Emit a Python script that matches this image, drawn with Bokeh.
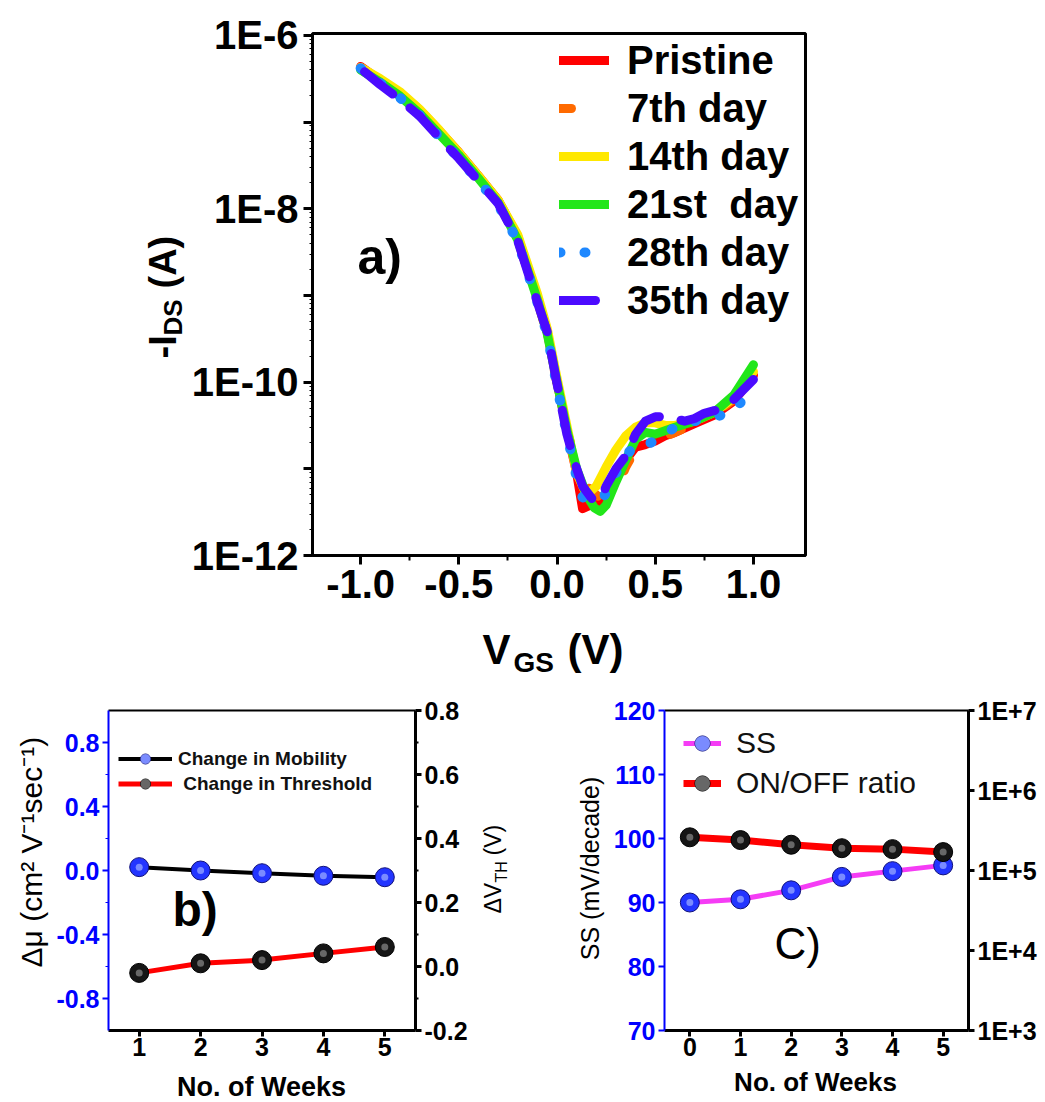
import math
from bokeh.plotting import figure
from bokeh.models import (Range1d, LinearAxis, LogAxis, LogScale, FixedTicker,
                          PrintfTickFormatter, CustomJSTickFormatter, Legend,
                          LegendItem, Label)
from bokeh.layouts import column, row
from bokeh.embed import file_html
from bokeh.resources import INLINE

FONT = "Liberation Sans"

# ---------------- Panel a data: transfer curves (log10 of -I_DS in A) -------------
pristine_V = [-1.0, -0.9, -0.8, -0.7, -0.6, -0.5, -0.4, -0.3, -0.2, -0.1, -0.05, 0.0, 0.05, 0.1, 0.13, 0.17, 0.21, 0.25, 0.3, 0.35, 0.4, 0.45, 0.5, 0.55, 0.6, 0.7, 0.8, 0.9, 1.0]
pristine_logI = [-6.36, -6.52, -6.66, -6.86, -7.10, -7.35, -7.62, -7.90, -8.32, -9.02, -9.42, -10.0, -10.55, -11.05, -11.46, -11.42, -11.38, -11.28, -11.10, -10.90, -10.75, -10.72, -10.68, -10.62, -10.58, -10.48, -10.38, -10.22, -9.92]

day7_V = [-1.0, -0.9, -0.8, -0.7, -0.6, -0.5, -0.4, -0.3, -0.2, -0.1, -0.05, 0.0, 0.05, 0.1, 0.15, 0.2, 0.24, 0.27, 0.3, 0.35, 0.4, 0.45, 0.5, 0.55, 0.6, 0.7, 0.8, 0.9, 1.0]
day7_logI = [-6.37, -6.53, -6.68, -6.87, -7.11, -7.36, -7.64, -7.92, -8.36, -9.06, -9.45, -10.02, -10.55, -10.95, -11.20, -11.30, -11.38, -11.40, -11.25, -10.98, -10.78, -10.72, -10.68, -10.63, -10.58, -10.48, -10.37, -10.20, -9.90]

day14_V = [-1.0, -0.9, -0.8, -0.7, -0.6, -0.5, -0.4, -0.3, -0.2, -0.1, -0.05, 0.0, 0.05, 0.1, 0.15, 0.2, 0.25, 0.3, 0.35, 0.4, 0.45, 0.5, 0.55, 0.6, 0.7, 0.8, 0.9, 1.0]
day14_logI = [-6.37, -6.50, -6.65, -6.85, -7.09, -7.35, -7.62, -7.90, -8.30, -8.98, -9.38, -9.95, -10.50, -11.05, -11.30, -11.20, -10.98, -10.78, -10.62, -10.52, -10.47, -10.47, -10.50, -10.50, -10.45, -10.35, -10.18, -9.88]

day21_V = [-1.0, -0.9, -0.8, -0.7, -0.6, -0.5, -0.4, -0.3, -0.2, -0.1, -0.05, 0.0, 0.05, 0.1, 0.15, 0.19, 0.22, 0.25, 0.3, 0.35, 0.4, 0.45, 0.5, 0.55, 0.6, 0.7, 0.8, 0.9, 1.0]
day21_logI = [-6.40, -6.54, -6.70, -6.90, -7.14, -7.38, -7.65, -7.93, -8.36, -9.05, -9.44, -10.0, -10.55, -11.0, -11.30, -11.45, -11.49, -11.42, -11.15, -10.90, -10.66, -10.58, -10.60, -10.56, -10.52, -10.45, -10.35, -10.15, -9.80]

day28_V = [-1.0, -0.9, -0.8, -0.7, -0.6, -0.5, -0.4, -0.3, -0.2, -0.1, -0.05, 0.0, 0.05, 0.1, 0.13, 0.18, 0.23, 0.27, 0.3, 0.35, 0.4, 0.45, 0.5, 0.55, 0.6, 0.7, 0.8, 0.88, 0.95, 1.0]
day28_logI = [-6.38, -6.55, -6.72, -6.92, -7.17, -7.42, -7.68, -7.95, -8.38, -9.08, -9.45, -10.05, -10.60, -11.10, -11.33, -11.35, -11.35, -11.20, -11.05, -10.85, -10.72, -10.72, -10.68, -10.60, -10.52, -10.45, -10.40, -10.36, -10.20, -10.05]

day35_V = [-0.98, -0.9, -0.8, -0.7, -0.6, -0.5, -0.4, -0.3, -0.2, -0.1, -0.05, 0.0, 0.05, 0.1, 0.13, 0.18, 0.22, 0.25, 0.3, 0.35, 0.4, 0.45, 0.5, 0.55, 0.6, 0.65, 0.7, 0.75, 0.8, 0.85, 0.9, 1.0]
day35_logI = [-6.42, -6.57, -6.74, -6.93, -7.18, -7.42, -7.68, -7.94, -8.37, -9.08, -9.42, -10.02, -10.60, -11.0, -11.20, -11.35, -11.37, -11.20, -11.0, -10.85, -10.60, -10.45, -10.40, -10.40, -10.42, -10.45, -10.42, -10.36, -10.33, -10.28, -10.20, -9.97]

series_names = ["Pristine", "7th day", "14th day", "21st  day", "28th day", "35th day"]
x_ticks_a = [-1.0, -0.5, 0.0, 0.5, 1.0]
y_ticks_a = [1e-12, 1e-11, 1e-10, 1e-9, 1e-8, 1e-7, 1e-6]

# ---------------- Panel b data ----------------
weeks_b = [1, 2, 3, 4, 5]
mobility_change = [0.021, 0.0, -0.017, -0.033, -0.042]
threshold_change = [-0.02, 0.01, 0.02, 0.041, 0.061]

# ---------------- Panel c data ----------------
weeks_c = [0, 1, 2, 3, 4, 5]
ss_values = [90.0, 90.5, 91.9, 94.0, 94.9, 95.8]
on_off_ratio = [2.6e5, 2.4e5, 2.1e5, 1.9e5, 1.85e5, 1.7e5]

BLUE = "#0000ff"
BASE = 0.33   # anchor offset (em) between the text anchor and its baseline


def label_fig(w, h):
    f = figure(width=w, height=h, x_range=Range1d(0, w), y_range=Range1d(0, h),
               output_backend="svg", toolbar_location=None,
               x_axis_location=None, y_axis_location=None,
               min_border=0, min_border_left=0, min_border_right=0,
               min_border_top=0, min_border_bottom=0)
    for g in f.grid:
        g.visible = False
    f.outline_line_color = None
    return f


def add_label(p, text, x, y, size, style="bold", angle=0.0, align="left",
              color="black"):
    p.add_layout(Label(x=x, y=y, x_units="screen", y_units="screen", text=text,
                       angle=angle, text_align=align, text_baseline="alphabetic",
                       text_font=FONT, text_font_size=f"{size}px",
                       text_font_style=style, text_color=color))


def hlabel(p, left, bottom, text, px, py_base, size, **kw):
    # horizontal text: page x of anchor, page y of the text baseline
    add_label(p, text, px - left, bottom - (py_base - BASE * size), size, **kw)


def vlabel(p, left, bottom, text, px_base, py, size, **kw):
    # text rotated 90 deg (reads upward): page x of baseline, page y of anchor
    add_label(p, text, (px_base - BASE * size) - left, bottom - py, size,
              angle=math.pi / 2, **kw)


def style_axis(ax, size, color="black", width=3, tick_out=8, minor_out=4, standoff=5):
    ax.axis_line_color = color
    ax.axis_line_width = width
    ax.major_tick_line_color = color
    ax.major_tick_line_width = width
    ax.minor_tick_line_color = color
    ax.minor_tick_line_width = max(1, width - 1)
    ax.major_tick_out = tick_out
    ax.major_tick_in = 0
    ax.minor_tick_out = minor_out
    ax.minor_tick_in = 0
    ax.major_label_text_font = FONT
    ax.major_label_text_font_size = f"{size}px"
    ax.major_label_text_font_style = "bold"
    ax.major_label_text_color = color
    ax.major_label_standoff = standoff


# ====================== Panel a (frame: page x 310-805, y 33-555) ======================
pa = figure(width=857, height=620, x_range=Range1d(-1.245, 1.265),
            y_range=Range1d(1e-12, 1.05e-6), y_axis_type="log",
            output_backend="svg", toolbar_location=None,
            min_border_left=122, min_border_right=240, min_border_top=33,
            min_border_bottom=65)
pa.xgrid.visible = False
pa.ygrid.visible = False
pa.outline_line_color = "black"
pa.outline_line_width = 3

style_axis(pa.xaxis[0], 40, tick_out=9, minor_out=5, standoff=5)
pa.xaxis[0].ticker = FixedTicker(ticks=x_ticks_a, minor_ticks=[-0.75, -0.25, 0.25, 0.75])
pa.xaxis[0].formatter = PrintfTickFormatter(format="%.1f")

style_axis(pa.yaxis[0], 40, tick_out=9, minor_out=3, standoff=5)
pa.yaxis[0].minor_tick_line_width = 1
pa.yaxis[0].ticker = FixedTicker(
    ticks=y_ticks_a,
    minor_ticks=[k * 10.0 ** e for e in range(-12, -6) for k in range(2, 10)])
pa.yaxis[0].formatter = CustomJSTickFormatter(
    code="const e = Math.round(Math.log10(tick)); return (Math.abs(e) % 2 == 0) ? '1E' + e : '';")

curves = [
    (pristine_V, pristine_logI, "#ff0000", "solid", 9),
    (day7_V, day7_logI, "#ff6a00", "12 50", 9),
    (day14_V, day14_logI, "#ffe800", "solid", 9),
    (day21_V, day21_logI, "#22e61a", "solid", 9),
    (day28_V, day28_logI, "#1e88ff", "1 24", 10),
    (day35_V, day35_logI, "#4b0aff", "36 22", 9),
]
items_a = []
for name, (V, L, col, dash, lw) in zip(series_names, curves):
    r = pa.line(V, [10.0 ** v for v in L], line_color=col, line_width=lw,
                line_dash=dash, line_cap="round", line_join="round")
    items_a.append(LegendItem(label=name, renderers=[r]))

leg_a = Legend(items=items_a, location=(247, 231), glyph_width=50, glyph_height=48,
               label_height=48, spacing=0, padding=0, margin=0, label_standoff=18,
               background_fill_alpha=0, border_line_color=None,
               label_text_font=FONT, label_text_font_size="40px",
               label_text_font_style="bold", label_text_color="black")
pa.add_layout(leg_a)
hlabel(pa, 310, 555, "a)", 355, 273, 50)

# y label strip for panel a; its frame is aligned with pa's frame (bottom = 555)
ya = label_fig(188, 620)
vlabel(ya, 0, 555, "-I", 175, 358, 38)
vlabel(ya, 0, 555, "DS", 181, 335, 26)
vlabel(ya, 0, 555, "(A)", 175, 288, 38)

# x label strip for panel a (page y 620-686)
xa = label_fig(1045, 66)
hlabel(xa, 0, 686, "V", 482, 663, 42)
hlabel(xa, 0, 686, "GS", 513, 671, 28)
hlabel(xa, 0, 686, "(V)", 567, 663, 42)

# ====================== Panel b (frame: page x 108-415, y 710-1030) ======================
pb = figure(width=420, height=380, x_range=Range1d(0.5, 5.5), y_range=Range1d(-1.0, 1.0),
            output_backend="svg", toolbar_location=None,
            min_border_left=58, min_border_right=55, min_border_top=24,
            min_border_bottom=36)
pb.xgrid.visible = False
pb.ygrid.visible = False
pb.outline_line_color = None
pb.extra_y_ranges = {"vth": Range1d(-0.2, 0.8)}

style_axis(pb.yaxis[0], 25, color=BLUE, width=2, tick_out=6, minor_out=3, standoff=3)
pb.yaxis[0].ticker = FixedTicker(ticks=[-0.8, -0.4, 0.0, 0.4, 0.8], minor_ticks=[-0.6, -0.2, 0.2, 0.6])
pb.yaxis[0].formatter = PrintfTickFormatter(format="%.1f")

style_axis(pb.xaxis[0], 25, width=3, tick_out=6, minor_out=3, standoff=1)
pb.xaxis[0].ticker = FixedTicker(ticks=weeks_b, minor_ticks=[])
pb.xaxis[0].formatter = PrintfTickFormatter(format="%d")

rax_b = LinearAxis(y_range_name="vth",
                   ticker=FixedTicker(ticks=[-0.2, 0.0, 0.2, 0.4, 0.6, 0.8],
                                      minor_ticks=[-0.1, 0.1, 0.3, 0.5, 0.7]),
                   formatter=PrintfTickFormatter(format="%.1f"))
style_axis(rax_b, 25, width=3, tick_out=6, minor_out=3, standoff=3)
pb.add_layout(rax_b, "right")

tax_b = LinearAxis(ticker=FixedTicker(ticks=[], minor_ticks=[]))
style_axis(tax_b, 10, width=2, tick_out=0, minor_out=0, standoff=0)
pb.add_layout(tax_b, "above")

l_mob = pb.line(weeks_b, mobility_change, line_color="black", line_width=4)
s_mob = pb.scatter(weeks_b, mobility_change, size=19, fill_color="#2335ff", line_color="#10107a", line_width=1)
h_mob = pb.scatter(weeks_b, mobility_change, size=7, fill_color="#9fb0ff", line_color=None, fill_alpha=0.7)
l_th = pb.line(weeks_b, threshold_change, y_range_name="vth", line_color="#ff0000", line_width=5)
s_th = pb.scatter(weeks_b, threshold_change, y_range_name="vth", size=19, fill_color="#151515", line_color="black", line_width=1)
h_th = pb.scatter(weeks_b, threshold_change, y_range_name="vth", size=7, fill_color="#8a8a8a", line_color=None, fill_alpha=0.7)

leg_b = Legend(items=[LegendItem(label="Change in Mobility", renderers=[l_mob, s_mob, h_mob]),
                      LegendItem(label=" Change in Threshold", renderers=[l_th, s_th, h_th])],
               location=(10, 234), glyph_width=54, glyph_height=25, label_height=25,
               spacing=0, padding=0, margin=0, label_standoff=6,
               background_fill_alpha=0, border_line_color=None,
               label_text_font=FONT, label_text_font_size="19px",
               label_text_font_style="bold", label_text_color="#111111")
pb.add_layout(leg_b)
hlabel(pb, 108, 1030, "b)", 172, 925, 48)

# ====================== Panel c (frame: page x 663-968, y 710-1030) ======================
pc = figure(width=435, height=380, x_range=Range1d(-0.5, 5.5), y_range=Range1d(70, 120),
            output_backend="svg", toolbar_location=None,
            min_border_left=53, min_border_right=77, min_border_top=24,
            min_border_bottom=36)
pc.xgrid.visible = False
pc.ygrid.visible = False
pc.outline_line_color = None
pc.extra_y_ranges = {"onoff": Range1d(1e3, 1e7)}
pc.extra_y_scales = {"onoff": LogScale()}

style_axis(pc.yaxis[0], 25, color=BLUE, width=2, tick_out=6, minor_out=3, standoff=3)
pc.yaxis[0].ticker = FixedTicker(ticks=[70, 80, 90, 100, 110, 120], minor_ticks=[])
pc.yaxis[0].formatter = PrintfTickFormatter(format="%d")

style_axis(pc.xaxis[0], 25, width=3, tick_out=6, minor_out=3, standoff=1)
pc.xaxis[0].ticker = FixedTicker(ticks=weeks_c, minor_ticks=[])
pc.xaxis[0].formatter = PrintfTickFormatter(format="%d")

rax_c = LogAxis(y_range_name="onoff",
                ticker=FixedTicker(ticks=[1e3, 1e4, 1e5, 1e6, 1e7], minor_ticks=[]),
                formatter=CustomJSTickFormatter(
                    code="const e = Math.round(Math.log10(tick)); return '1E+' + e;"))
style_axis(rax_c, 25, width=3, tick_out=6, minor_out=3, standoff=3)
pc.add_layout(rax_c, "right")

tax_c = LinearAxis(ticker=FixedTicker(ticks=[], minor_ticks=[]))
style_axis(tax_c, 10, width=2, tick_out=0, minor_out=0, standoff=0)
pc.add_layout(tax_c, "above")

l_ss = pc.line(weeks_c, ss_values, line_color="#f53cf5", line_width=5)
s_ss = pc.scatter(weeks_c, ss_values, size=19, fill_color="#2335ff", line_color="#10107a", line_width=1)
h_ss = pc.scatter(weeks_c, ss_values, size=7, fill_color="#9fb0ff", line_color=None, fill_alpha=0.7)
l_oo = pc.line(weeks_c, on_off_ratio, y_range_name="onoff", line_color="#ff0000", line_width=7)
s_oo = pc.scatter(weeks_c, on_off_ratio, y_range_name="onoff", size=19, fill_color="#151515", line_color="black", line_width=1)
h_oo = pc.scatter(weeks_c, on_off_ratio, y_range_name="onoff", size=7, fill_color="#8a8a8a", line_color=None, fill_alpha=0.7)

leg_c = Legend(items=[LegendItem(label="SS", renderers=[l_ss, s_ss, h_ss]),
                      LegendItem(label="ON/OFF ratio", renderers=[l_oo, s_oo, h_oo])],
               location=(19, 227), glyph_width=38, glyph_height=40, label_height=40,
               spacing=0, padding=0, margin=0, label_standoff=15,
               background_fill_alpha=0, border_line_color=None,
               label_text_font=FONT, label_text_font_size="30px",
               label_text_font_style="normal", label_text_color="#111111")
pc.add_layout(leg_c)
hlabel(pc, 663, 1030, "C)", 773, 958, 44, style="normal")

# label strips for the bottom row; their frames align with the panels' frames (bottom = 1030)
lb = label_fig(50, 380)
vlabel(lb, 0, 1030, "\u0394\u03bc (cm\u00b2 V\u207b\u00b9sec\u207b\u00b9)", 41, 967, 30, style="normal")

lm = label_fig(140, 380)
vlabel(lm, 470, 1030, "\u0394V", 500, 913, 23, style="normal")
vlabel(lm, 470, 1030, "TH", 506, 882, 16, style="normal")
vlabel(lm, 470, 1030, "(V)", 500, 855, 23, style="normal")
vlabel(lm, 470, 1030, "SS (mV/decade)", 598, 868, 25, style="normal", align="center")

# bottom strip for x labels (page y 1066-1102)
lx = label_fig(1045, 36)
hlabel(lx, 0, 1102, "No. of Weeks", 261, 1095, 27, align="center")
hlabel(lx, 0, 1102, "No. of Weeks", 815, 1090, 26, align="center")

layout = column(
    row(ya, pa),
    xa,
    row(lb, pb, lm, pc),
    lx,
)
open("out.html", "w").write(file_html(layout, INLINE))
